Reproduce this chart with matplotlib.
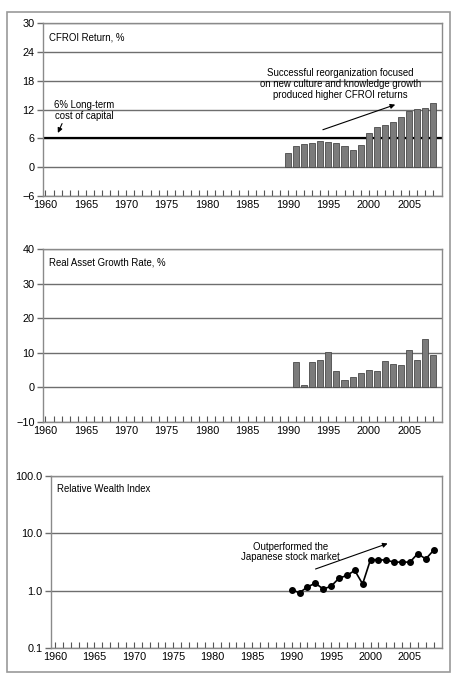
import numpy as np
import matplotlib
matplotlib.use("Agg")
import matplotlib.pyplot as plt
from matplotlib.patches import Rectangle
from matplotlib.ticker import FixedLocator, NullLocator

plt.rcParams["font.family"] = ["Liberation Sans", "DejaVu Sans"]
plt.rcParams["font.size"] = 7.8

years = list(range(1990, 2009))
cfroi = [2.9, 4.4, 4.8, 5.0, 5.4, 5.3, 5.0, 4.5, 3.5, 4.7, 7.2,
         8.4, 8.7, 9.5, 10.5, 11.7, 12.2, 12.4, 13.4]
growth_years = list(range(1991, 2009))
growth = [7.2, 0.8, 7.4, 7.8, 10.1, 4.7, 2.0, 3.1, 4.2, 4.9, 4.7,
          7.6, 6.8, 6.4, 10.7, 7.9, 14.0, 9.5]
wealth = [1.03, 0.92, 1.16, 1.35, 1.07, 1.19, 1.65, 1.84, 2.25, 1.31, 3.47,
          3.47, 3.4, 3.15, 3.15, 3.15, 4.44, 3.56, 5.07]

cfroi_ticks = [-6, 0, 6, 12, 18, 24, 30]
growth_ticks = [-10, 0, 10, 20, 30, 40]
wealth_ticks = [0.1, 1.0, 10.0, 100.0]
year_labels = list(range(1960, 2010, 5))

SPINE = "#8a8a8a"
GRID = "#6e6e6e"
BAR = "#7b7b7b"
TXT = 6.9

W, H = 465, 679
fig = plt.figure(figsize=(W / 100, H / 100), dpi=100)
fig.patches.append(Rectangle((7 / W, 1 - 672 / H), 443 / W, 660 / H,
                             transform=fig.transFigure, fill=False,
                             edgecolor="#9a9a9a", linewidth=1.2))


def px_axes(left, top, right, bottom):
    return fig.add_axes([left / W, 1 - bottom / H, (right - left) / W, (bottom - top) / H])


def style(ax, yticks, ylabels, xlim):
    ax.set_xlim(*xlim)
    for s in ax.spines.values():
        s.set_color(SPINE)
        s.set_linewidth(1.0)
    ax.xaxis.set_major_locator(FixedLocator(year_labels))
    ax.xaxis.set_minor_locator(FixedLocator(list(range(1960, 2009))))
    ax.tick_params(axis="x", which="both", direction="in", length=4,
                   color="#555555", width=0.8, pad=3)
    ax.set_yticks(yticks)
    ax.set_yticklabels(ylabels)
    ax.yaxis.set_minor_locator(NullLocator())
    ax.tick_params(axis="y", direction="out", length=4, color=GRID, width=1.0, pad=2)
    for y in yticks:
        ax.axhline(y, color=GRID, linewidth=1.0, zorder=1)


arrow = dict(arrowstyle="-|>", color="black", lw=0.8, mutation_scale=7)

# Panel 1: CFROI
ax1 = px_axes(43, 23, 441.5, 196)
ax1.set_ylim(-6, 30)
ax1.bar(years, cfroi, width=0.75, color=BAR, edgecolor="#4a4a4a", linewidth=0.6, zorder=3)
style(ax1, cfroi_ticks, ["\u22126", "0", "6", "12", "18", "24", "30"], (1959.7, 2009))
ax1.axhline(6, color="black", linewidth=1.6, zorder=2)
ax1.text(1960.4, 28, "CFROI Return, %", va="top", ha="left", fontsize=TXT)
ax1.text(1964.8, 13.9, "6% Long-term\ncost of capital", ha="center", va="top",
         linespacing=1.05, fontsize=TXT)
ax1.annotate("", xy=(1961.4, 6.6), xytext=(1962.2, 9.6), arrowprops=arrow)
ax1.text(1996.5, 20.6, "Successful reorganization focused\non new culture and knowledge growth\n"
         "produced higher CFROI returns", ha="center", va="top", linespacing=1.1,
         fontsize=TXT)
ax1.annotate("", xy=(2003.6, 13.2), xytext=(1994, 7.6), arrowprops=arrow)

# Panel 2: Real asset growth
ax2 = px_axes(43, 249, 441.5, 422)
ax2.set_ylim(-10, 40)
ax2.bar(growth_years, growth, width=0.75, color=BAR, edgecolor="#4a4a4a", linewidth=0.6, zorder=3)
style(ax2, growth_ticks, ["\u221210", "0", "10", "20", "30", "40"], (1959.7, 2009))
ax2.text(1960.4, 37.6, "Real Asset Growth Rate, %", va="top", ha="left", fontsize=TXT)

# Panel 3: Relative wealth index
ax3 = px_axes(51, 476, 441.5, 648)
ax3.set_yscale("log")
ax3.set_ylim(0.1, 100)
ax3.plot(years, wealth, color="black", linewidth=1.2, marker="o", markersize=4, zorder=3)
style(ax3, wealth_ticks, ["0.1", "1.0", "10.0", "100.0"], (1959.5, 2009))
ax3.yaxis.set_minor_locator(NullLocator())
ax3.text(1960.2, 72, "Relative Wealth Index", va="top", ha="left", fontsize=TXT)
ax3.text(1989.9, 7.2, "Outperformed the\nJapanese stock market", ha="center", va="top",
         linespacing=1.1, fontsize=TXT)
ax3.annotate("", xy=(2002.5, 6.9), xytext=(1992.7, 2.3), arrowprops=arrow)

fig.savefig("out.png", dpi=100)
